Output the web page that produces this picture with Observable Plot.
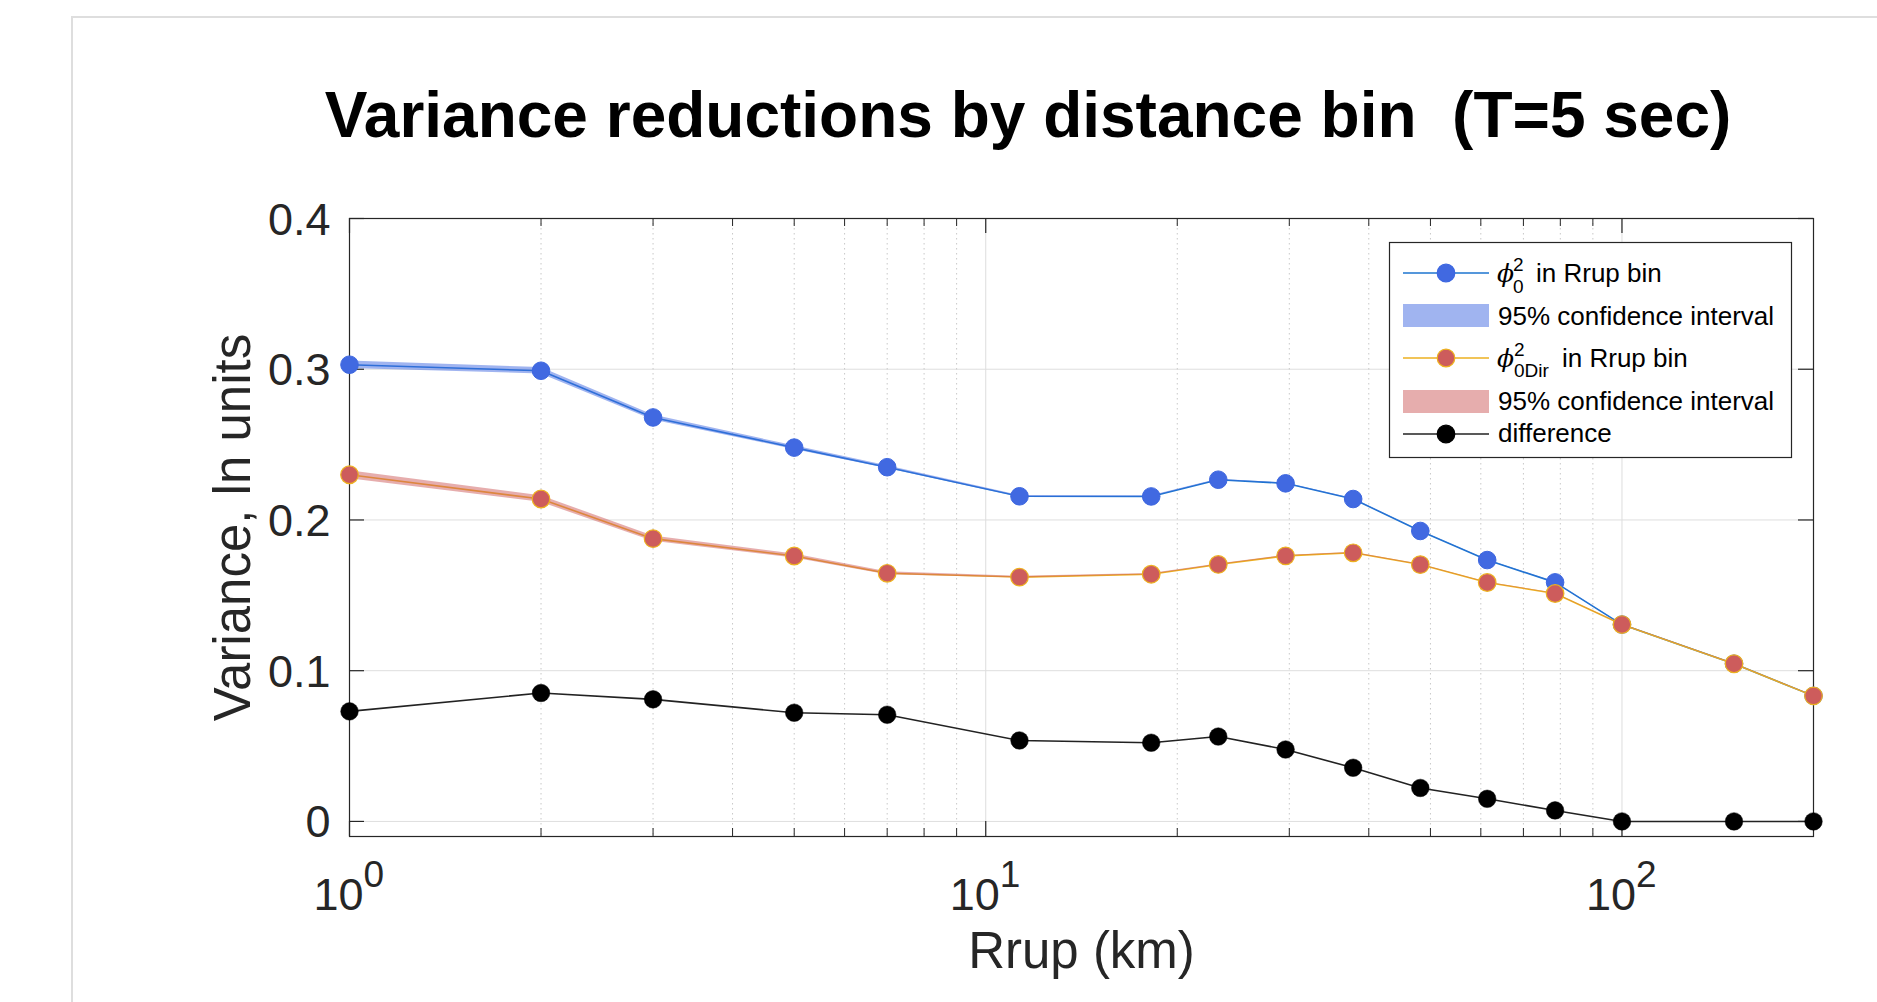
<!DOCTYPE html>
<html><head><meta charset="utf-8">
<script src="https://cdn.jsdelivr.net/npm/d3@7"></script>
<script src="https://cdn.jsdelivr.net/npm/@observablehq/plot@0.6"></script>
<style>
html,body{margin:0;padding:0;background:#fff;}
#wrap{position:relative;width:1877px;height:1002px;overflow:hidden;font-family:"Liberation Sans",Arial,sans-serif;}
#pageframe{position:absolute;left:71px;top:16px;right:-10px;bottom:-10px;border-top:2px solid #dedede;border-left:2px solid #dedede;}
#chart{position:absolute;left:0;top:0;}
#title{position:absolute;left:1028px;top:83px;transform:translateX(-50%);font:bold 64px/64px "Liberation Sans",Arial,sans-serif;white-space:pre;color:#000;}
#legend{position:absolute;left:1389px;top:242px;}
</style></head>
<body>
<div id="wrap">
  <div id="pageframe"></div>
  <div id="chart"></div>
  <div id="title">Variance reductions by distance bin  (T=5 sec)</div>
  <div id="legend"></div>
</div>
<script>
// ---- data ----
const rrup       = [1, 2, 3, 5, 7, 11.3, 18.2, 23.2, 29.6, 37.8, 48.2, 61.4, 78.5, 100, 150, 200];
const phi0Sq     = [0.303, 0.299, 0.268, 0.248, 0.235, 0.2157, 0.2156, 0.2267, 0.2243, 0.2139, 0.1927, 0.1734, 0.1586, 0.1306, 0.1046, 0.0833];
const phi0DirSq  = [0.230, 0.2139, 0.1876, 0.1761, 0.1646, 0.1621, 0.1640, 0.1705, 0.1762, 0.1782, 0.1704, 0.1585, 0.1512, 0.1306, 0.1046, 0.0833];
const diffVals   = [0.073, 0.0852, 0.081, 0.0721, 0.0708, 0.0537, 0.0522, 0.0563, 0.0477, 0.0356, 0.0222, 0.0150, 0.0073, 0, 0, 0];
const ciHalfPhi0    = [0.0025, 0.0021, 0.0016, 0.0012, 0.0009, 0.0006, 0.0004, 0.0003, 0.0003, 0.0003, 0.0002, 0.0002, 0.0002, 0.00015, 0.0001, 0.0001];
const ciHalfPhi0Dir = [0.0026, 0.0022, 0.0017, 0.0013, 0.0010, 0.0006, 0.0004, 0.0003, 0.0003, 0.0003, 0.0002, 0.0002, 0.0002, 0.00015, 0.0001, 0.0001];
const yTicks = [0, 0.1, 0.2, 0.3, 0.4];
const yTickLabels = ["0", "0.1", "0.2", "0.3", "0.4"];
const xMajor = [1, 10, 100];
const xExponents = ["0", "1", "2"];
const xMinor = [2, 3, 4, 5, 6, 7, 8, 9, 20, 30, 40, 50, 60, 70, 80, 90, 200];
const xLabel = "Rrup (km)";
const yLabel = "Variance, ln units";

const rows = rrup.map((r, i) => ({
  r, phi0: phi0Sq[i], phiDir: phi0DirSq[i], diff: diffVals[i],
  c0: ciHalfPhi0[i], cD: ciHalfPhi0Dir[i]
}));
const xTickRows = xMajor.map((v, i) => ({v, e: xExponents[i]}));
const yTickRows = yTicks.map((v, i) => ({v, t: yTickLabels[i]}));

const W = 1877, H = 1002, mL = 349, mR = 64, mT = 218, mB = 166;
const pw = W - mL - mR, ph = H - mT - mB;
const axisColor = "#262626";
const blueLine = "#1C74CF", blueFill = "#4169E1";
const orangeLine = "#EDB120", redFill = "#CD5C5C";
const majorLen = 15, minorLen = 8;
const tickFont = 45, labelFont = 51;

const plot = Plot.plot({
  width: W, height: H,
  marginLeft: mL, marginRight: mR, marginTop: mT, marginBottom: mB,
  style: {background: "transparent", fontFamily: "'Liberation Sans', Arial, sans-serif", overflow: "visible"},
  x: {type: "log", domain: [1, 200], axis: null},
  y: {domain: [-0.01, 0.4], axis: null},
  marks: [
    // grid
    Plot.ruleY(yTicks, {y: d => d, stroke: "#dedede", strokeWidth: 1}),
    Plot.ruleX(xMinor, {x: d => d, stroke: "#c8c8c8", strokeWidth: 1, strokeDasharray: "1.5,3.5"}),
    Plot.ruleX(xMajor, {x: d => d, stroke: "#dedede", strokeWidth: 1}),
    // inward ticks
    Plot.tickY(yTicks, {y: d => d, stroke: axisColor, strokeWidth: 1.2, insetRight: pw - majorLen}),
    Plot.tickY(yTicks, {y: d => d, stroke: axisColor, strokeWidth: 1.2, insetLeft: pw - majorLen}),
    Plot.tickX(xMajor, {x: d => d, stroke: axisColor, strokeWidth: 1.2, insetTop: ph - majorLen}),
    Plot.tickX(xMajor, {x: d => d, stroke: axisColor, strokeWidth: 1.2, insetBottom: ph - majorLen}),
    Plot.tickX(xMinor, {x: d => d, stroke: axisColor, strokeWidth: 1, insetTop: ph - minorLen}),
    Plot.tickX(xMinor, {x: d => d, stroke: axisColor, strokeWidth: 1, insetBottom: ph - minorLen}),
    Plot.frame({stroke: axisColor, strokeWidth: 1.2}),
    // tick labels
    Plot.text(yTickRows, {y: "v", text: "t", frameAnchor: "left", textAnchor: "end", lineAnchor: "bottom",
      dx: -19, dy: 16, fontSize: tickFont, fill: axisColor}),
    Plot.text(xTickRows, {x: "v", text: () => "10", frameAnchor: "bottom", textAnchor: "end", lineAnchor: "bottom",
      dx: 14, dy: 73, fontSize: tickFont, fill: axisColor}),
    Plot.text(xTickRows, {x: "v", text: "e", frameAnchor: "bottom", textAnchor: "start", lineAnchor: "bottom",
      dx: 14, dy: 50, fontSize: 37, fill: axisColor}),
    // axis labels
    Plot.text([xLabel], {text: d => d, frameAnchor: "bottom", textAnchor: "middle", lineAnchor: "bottom",
      dy: 131, fontSize: labelFont, fill: axisColor}),
    Plot.text([yLabel], {text: d => d, frameAnchor: "left", textAnchor: "middle", lineAnchor: "bottom",
      rotate: -90, dx: -100, fontSize: labelFont, fill: axisColor}),
    // phi0^2 series
    Plot.line(rows, {x: "r", y: "phi0", stroke: blueLine, strokeWidth: 1.6}),
    Plot.areaY(rows, {x: "r", y1: d => d.phi0 - d.c0, y2: d => d.phi0 + d.c0, fill: blueFill, fillOpacity: 0.5}),
    Plot.dot(rows, {x: "r", y: "phi0", r: 8.8, fill: blueFill, stroke: "#3d67e0", strokeWidth: 1}),
    // phi0Dir^2 series
    Plot.line(rows, {x: "r", y: "phiDir", stroke: orangeLine, strokeWidth: 1.6}),
    Plot.areaY(rows, {x: "r", y1: d => d.phiDir - d.cD, y2: d => d.phiDir + d.cD, fill: redFill, fillOpacity: 0.5}),
    Plot.dot(rows, {x: "r", y: "phiDir", r: 8.8, fill: redFill, stroke: orangeLine, strokeWidth: 1.2}),
    // difference
    Plot.line(rows, {x: "r", y: "diff", stroke: "#222", strokeWidth: 1.6}),
    Plot.dot(rows, {x: "r", y: "diff", r: 8.8, fill: "#000", stroke: "#000", strokeWidth: 0.5})
  ]
});
document.getElementById("chart").appendChild(plot);

// ---- legend ----
const lg = d3.select("#legend").append("svg").attr("width", 404).attr("height", 217)
  .style("font-family", "'Liberation Sans', Arial, sans-serif").style("overflow", "visible");
lg.append("rect").attr("x", 0.5).attr("y", 0.5).attr("width", 402).attr("height", 215)
  .attr("fill", "#fff").attr("stroke", axisColor).attr("stroke-width", 1.2);
function lineSample(y, stroke, fill, mstroke) {
  lg.append("line").attr("x1", 14).attr("x2", 100).attr("y1", y).attr("y2", y).attr("stroke", stroke).attr("stroke-width", 1.6);
  lg.append("circle").attr("cx", 57).attr("cy", y).attr("r", 8.8).attr("fill", fill).attr("stroke", mstroke).attr("stroke-width", 1.2);
}
function txt(x, y, s, size, opts = {}) {
  const t = lg.append("text").attr("x", x).attr("y", y).attr("font-size", size).attr("fill", "#000").text(s);
  if (opts.italic) t.attr("font-style", "italic").attr("font-family", "'DejaVu Serif', serif");
  return t;
}
lineSample(31, blueLine, blueFill, "#3d67e0");
txt(108, 40, "\u03D5", 25, {italic: true});
txt(124, 29, "2", 19);
txt(124, 51, "0", 19);
txt(147, 40, "in Rrup bin", 26);
lg.append("rect").attr("x", 14).attr("y", 62).attr("width", 86).attr("height", 23).attr("fill", blueFill).attr("fill-opacity", 0.5);
txt(109, 83, "95% confidence interval", 26);
lineSample(116, orangeLine, redFill, orangeLine);
txt(108, 125, "\u03D5", 25, {italic: true});
txt(125, 114, "2", 19);
txt(125, 135, "0Dir", 19);
txt(173, 125, "in Rrup bin", 26);
lg.append("rect").attr("x", 14).attr("y", 148).attr("width", 86).attr("height", 23).attr("fill", redFill).attr("fill-opacity", 0.5);
txt(109, 168, "95% confidence interval", 26);
lineSample(192, "#222", "#000", "#000");
txt(109, 200, "difference", 26);
</script>
</body></html>
